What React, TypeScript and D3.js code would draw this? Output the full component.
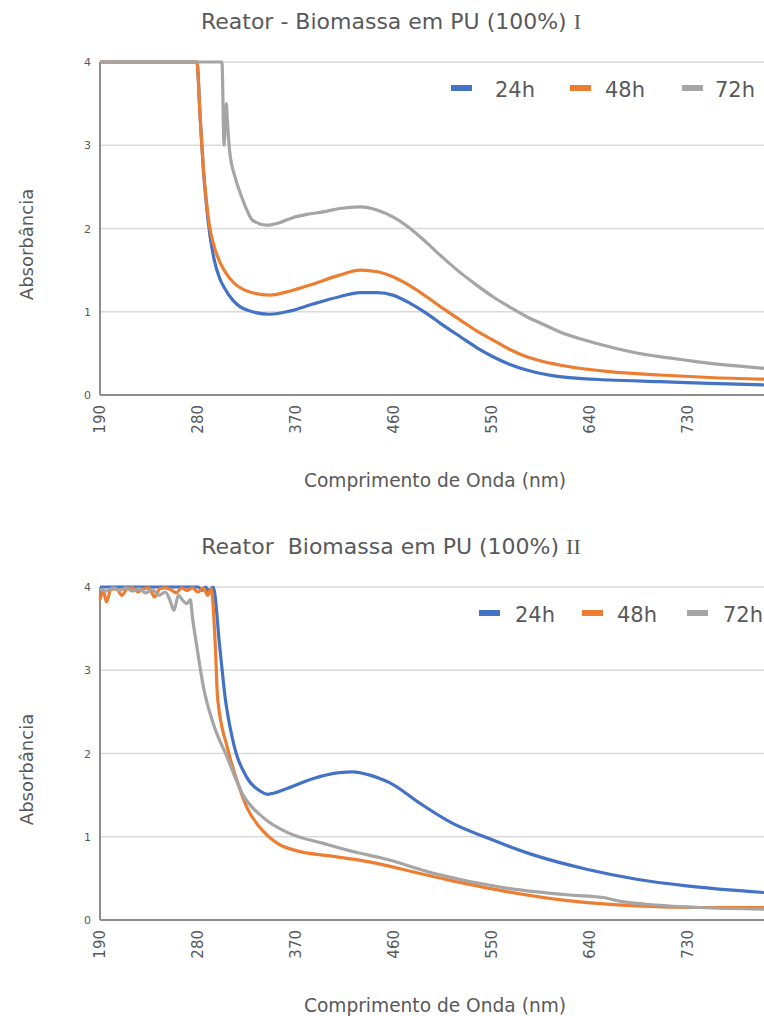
import React, { useRef, useEffect } from 'react';
import * as d3 from 'd3';

const seriesNames = ['24h', '48h', '72h'];
const seriesColors = ['#4472C4', '#ED7D31', '#A5A5A5'];
const xTicks = [190, 280, 370, 460, 550, 640, 730];
const yTicks = [0, 1, 2, 3, 4];

// Reator I  -  [wavelength nm, absorbance]
const r1_24h = [
  [190, 4], [279, 4], [282, 3.34], [285, 2.7], [288, 2.25], [291, 1.92], [295, 1.62], [300, 1.4],
  [305, 1.27], [312, 1.14], [325, 1.02], [346, 0.97], [365, 1.01], [385, 1.09], [410, 1.18], [429, 1.23],
  [445, 1.23], [459, 1.2], [475, 1.1], [490, 0.98], [505, 0.84], [521, 0.7], [536, 0.57], [551, 0.46],
  [566, 0.37], [582, 0.3], [612, 0.22], [658, 0.18], [704, 0.16], [750, 0.14], [800, 0.12]
];
const r1_48h = [
  [190, 4], [279, 4], [282, 3.34], [285, 2.72], [288, 2.3], [291, 2.0], [295, 1.78], [300, 1.6],
  [305, 1.48], [312, 1.36], [325, 1.25], [346, 1.2], [365, 1.25], [385, 1.33], [410, 1.44], [429, 1.5],
  [445, 1.48], [459, 1.42], [475, 1.31], [490, 1.18], [505, 1.04], [521, 0.9], [536, 0.77], [551, 0.66],
  [566, 0.55], [582, 0.46], [612, 0.36], [658, 0.28], [704, 0.24], [750, 0.21], [800, 0.19]
];
const r1_72h = [
  [190, 4], [302, 4], [304, 3.0], [306, 3.5], [307, 3.3], [309, 2.94], [314, 2.62], [319, 2.42],
  [325, 2.22], [330, 2.1], [343, 2.04], [355, 2.07], [367, 2.13], [380, 2.17], [395, 2.2], [410, 2.24],
  [429, 2.26], [445, 2.22], [459, 2.14], [475, 2.0], [490, 1.83], [505, 1.65], [521, 1.47], [536, 1.32],
  [551, 1.18], [566, 1.06], [582, 0.94], [597, 0.85], [612, 0.76], [635, 0.66], [658, 0.58], [681, 0.51],
  [704, 0.46], [727, 0.42], [750, 0.38], [775, 0.35], [800, 0.32]
];

// Reator II
const r2_24h = [
  [190, 4], [280, 4], [284, 3.96], [287, 4], [290, 3.95], [294, 4], [300, 3.28], [305, 2.67],
  [312, 2.16], [325, 1.71], [337, 1.55], [344, 1.51], [362, 1.58], [386, 1.7], [410, 1.77], [422, 1.78],
  [438, 1.74], [447, 1.7], [456, 1.65], [484, 1.4], [514, 1.16], [545, 0.99], [591, 0.77], [637, 0.61],
  [683, 0.49], [729, 0.41], [800, 0.33]
];
const r2_48h = [
  [190, 3.85], [193, 3.95], [196, 3.82], [200, 3.97], [205, 3.98], [210, 3.9], [215, 3.98], [220, 3.99],
  [225, 3.94], [230, 3.98], [235, 3.99], [240, 3.88], [245, 3.98], [250, 3.99], [255, 3.97], [260, 3.93],
  [265, 3.99], [270, 3.96], [275, 3.99], [280, 3.94], [285, 3.99], [289, 3.9], [292, 3.98], [296, 3.28],
  [298, 2.67], [307, 2.07], [316, 1.67], [325, 1.35], [337, 1.11], [353, 0.92], [371, 0.83], [401, 0.77],
  [432, 0.71], [500, 0.51], [560, 0.35], [622, 0.23], [683, 0.17], [744, 0.15], [800, 0.15]
];
const r2_72h = [
  [190, 3.98], [196, 3.95], [202, 3.99], [208, 3.96], [214, 3.99], [220, 3.95], [226, 3.98], [232, 3.93],
  [238, 3.97], [244, 3.9], [250, 3.94], [254, 3.85], [258, 3.72], [262, 3.9], [266, 3.84], [270, 3.8],
  [273, 3.85], [275, 3.63], [279, 3.28], [285, 2.8], [294, 2.36], [307, 1.95], [321, 1.51], [340, 1.23],
  [364, 1.04], [395, 0.92], [426, 0.81], [447, 0.75], [500, 0.55], [560, 0.39], [622, 0.3], [652, 0.27],
  [670, 0.22], [700, 0.18], [740, 0.15], [800, 0.13]
];

const charts = [
  {
    title: 'Reator - Biomassa em PU (100%) ', numeral: 'I', offset: 0,
    series: [r1_24h, r1_48h, r1_72h], legendX: [451, 570, 682], legendTextX: [495, 605, 715]
  },
  {
    title: 'Reator  Biomassa em PU (100%) ', numeral: 'II', offset: 525,
    series: [r2_24h, r2_48h, r2_72h], legendX: [479, 582, 687], legendTextX: [515, 617, 723]
  }
];

const font = "'DejaVu Sans', Verdana, sans-serif";
const textColor = '#595959';

const App = () => {
  const chartRef = useRef(null);

  useEffect(() => {
    const width = 764;
    const height = 1016;
    const marginLeft = 100;
    const plotTop = 62;
    const plotBottom = 395;

    const svg = d3.select(chartRef.current)
      .attr('width', width)
      .attr('height', height)
      .attr('viewBox', [0, 0, width, height]);
    svg.selectAll('*').remove();

    const x = d3.scaleLinear().domain([190, 800]).range([marginLeft, width]);
    const y = d3.scaleLinear().domain([0, 4]).range([plotBottom, plotTop]);

    const line = d3.line()
      .curve(d3.curveMonotoneX)
      .x(d => x(d[0]))
      .y(d => y(d[1]));

    charts.forEach(c => {
      const g = svg.append('g').attr('transform', `translate(0,${c.offset})`);

      // gridlines
      g.selectAll('line.grid')
        .data(yTicks.filter(t => t > 0))
        .join('line')
        .attr('x1', marginLeft).attr('x2', width)
        .attr('y1', d => y(d)).attr('y2', d => y(d))
        .attr('stroke', '#d9d9d9')
        .attr('stroke-width', 1.5);

      // axis lines
      g.append('line')
        .attr('x1', marginLeft).attr('x2', marginLeft)
        .attr('y1', y(4)).attr('y2', y(0))
        .attr('stroke', '#8c8c8c').attr('stroke-width', 2);
      g.append('line')
        .attr('x1', marginLeft).attr('x2', width)
        .attr('y1', y(0)).attr('y2', y(0))
        .attr('stroke', '#8c8c8c').attr('stroke-width', 2);

      // series
      c.series.forEach((s, i) => {
        g.append('path')
          .datum(s)
          .attr('fill', 'none')
          .attr('stroke', seriesColors[i])
          .attr('stroke-width', 3.2)
          .attr('stroke-linejoin', 'round')
          .attr('d', line);
      });

      // y tick labels
      g.selectAll('text.ytick')
        .data(yTicks)
        .join('text')
        .attr('x', marginLeft - 9)
        .attr('y', d => y(d) + 4)
        .attr('text-anchor', 'end')
        .attr('font-family', font)
        .attr('font-size', 11)
        .attr('fill', textColor)
        .text(d => d);

      // x tick labels (rotated)
      g.selectAll('text.xtick')
        .data(xTicks)
        .join('text')
        .attr('transform', d => `translate(${x(d) + 5},${y(0) + 10}) rotate(-90)`)
        .attr('text-anchor', 'end')
        .attr('font-family', font)
        .attr('font-size', 15)
        .attr('fill', textColor)
        .text(d => d);

      // title
      const t = g.append('text')
        .attr('x', 391)
        .attr('y', 29)
        .attr('text-anchor', 'middle')
        .attr('font-family', font)
        .attr('font-size', 22)
        .attr('fill', textColor)
        .style('white-space', 'pre');
      t.append('tspan').text(c.title);
      t.append('tspan').attr('font-family', "'Liberation Serif', serif").text(c.numeral);

      // axis titles
      g.append('text')
        .attr('x', 435)
        .attr('y', 487)
        .attr('text-anchor', 'middle')
        .attr('font-family', font)
        .attr('font-size', 18.6)
        .attr('fill', textColor)
        .text('Comprimento de Onda (nm)');
      g.append('text')
        .attr('transform', `translate(33,${(y(4) + y(0)) / 2 + 16}) rotate(-90)`)
        .attr('text-anchor', 'middle')
        .attr('font-family', font)
        .attr('font-size', 18)
        .attr('fill', textColor)
        .text('Absorbância');

      // legend
      seriesNames.forEach((name, i) => {
        const lx = c.legendX[i];
        g.append('line')
          .attr('x1', lx).attr('x2', lx + 21)
          .attr('y1', 88).attr('y2', 88)
          .attr('stroke', seriesColors[i])
          .attr('stroke-width', 6);
        g.append('text')
          .attr('x', c.legendTextX[i])
          .attr('y', 97)
          .attr('font-family', font)
          .attr('font-size', 21)
          .attr('fill', textColor)
          .text(name);
      });
    });
  }, []);

  return <svg ref={chartRef} style={{ position: 'absolute', left: 0, top: 0 }}></svg>;
};

export default App;
